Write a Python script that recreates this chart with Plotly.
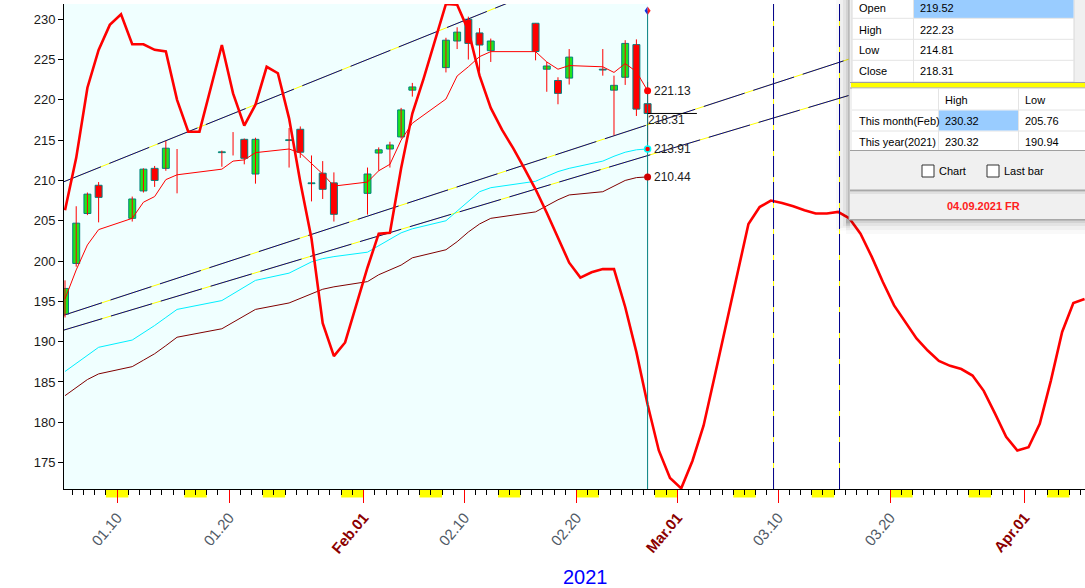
import plotly.graph_objects as go

# ---------------- data ----------------
# day index: 0 = start of 2021-01-01; bars sit 0.35 day into their calendar day
candle_day = [4, 5, 6, 7, 10, 11, 12, 13, 14, 18, 19, 20, 21, 24, 25, 26, 27, 28,
              31, 32, 33, 34, 35, 38, 39, 40, 41, 42, 46, 47, 48, 49, 52, 53, 54, 55, 56]
open_ = [193.4, 199.7, 205.9, 209.4, 205.3, 208.7, 211.5, 211.5, 211.0, 213.45, 214.0, 215.1, 210.8,
         214.95, 216.35, 209.6, 210.9, 209.7, 208.4, 213.4, 213.9, 215.4, 221.2, 224.0, 227.3, 230.0,
         228.3, 226.1, 229.5, 223.8, 222.4, 222.7, 223.8, 221.2, 222.8, 226.85, 219.52]
high = [197.6, 206.8, 208.5, 209.8, 208.0, 211.5, 211.8, 214.9, 213.9, 213.7, 216.0, 215.2, 215.3,
        216.5, 216.7, 213.1, 212.4, 211.0, 211.6, 214.1, 214.8, 219.0, 222.1, 227.7, 229.0, 230.32,
        228.9, 227.6, 229.5, 224.7, 222.8, 226.3, 226.3, 223.0, 227.4, 227.5, 222.23]
low = [193.0, 199.3, 205.7, 204.8, 204.9, 208.5, 209.2, 211.2, 208.4, 211.7, 213.1, 212.0, 209.6,
       211.6, 212.8, 207.4, 207.7, 204.9, 205.76, 211.2, 211.6, 215.2, 220.4, 223.4, 226.3, 225.0,
       223.5, 224.7, 224.9, 221.0, 219.45, 221.9, 223.0, 215.6, 221.85, 218.0, 214.81]
close = [196.6, 204.7, 208.3, 207.9, 207.7, 211.4, 210.0, 214.0, 211.0, 213.55, 214.0, 212.75, 215.1,
         215.05, 213.5, 209.7, 208.9, 205.8, 210.8, 213.8, 214.4, 218.75, 221.6, 227.4, 228.4, 227.0,
         226.8, 227.3, 226.0, 224.2, 220.8, 225.3, 223.7, 221.8, 227.0, 218.85, 218.31]

ma_fast = [195.3, 198.9, 202.0, 203.9, 205.3, 207.3, 208.0, 210.1, 210.7, 211.4, 212.4, 212.55, 213.45,
           213.9, 213.4, 212.1, 210.8, 209.3, 209.8, 211.2, 212.0, 215.0, 217.1, 220.1, 222.96, 224.1,
           225.36, 225.98, 225.98, 224.7, 223.8, 224.25, 224.1, 223.4, 224.5, 223.5, 221.13]
ma_mid = [186.3, 187.3, 188.4, 189.3, 190.2, 191.05, 192.0, 193.0, 194.0, 195.1, 195.9, 196.7, 197.6,
          198.5, 199.2, 199.9, 200.3, 200.55, 201.1, 201.9, 202.7, 203.5, 204.0, 205.0, 206.2, 207.4,
          208.6, 209.1, 209.9, 210.5, 211.1, 211.5, 212.4, 213.0, 213.5, 213.8, 213.91]
ma_slow = [183.3, 184.3, 185.3, 186.0, 186.9, 187.7, 188.5, 189.5, 190.55, 191.6, 192.4, 193.2, 194.0,
           194.8, 195.4, 195.95, 196.5, 196.8, 197.45, 198.3, 198.9, 199.5, 200.4, 201.4, 202.4, 203.6,
           204.6, 205.3, 206.1, 206.9, 207.6, 208.2, 208.6, 209.3, 210.0, 210.35, 210.44]

cycle_day = list(range(4, 96))
cycle_val = [206.3, 212.8, 221.5, 226.2, 229.3, 230.6, 226.9, 226.9, 226.2, 226.0, 220.0, 216.05, 216.05,
             221.6, 226.8, 220.8, 216.8, 219.4, 224.1, 223.3, 217.7, 209.8, 202.8, 192.3, 188.2, 189.9,
             194.6, 199.2, 203.4, 203.5, 211.5, 218.3, 222.6, 227.3, 231.9, 231.8, 228.6, 223.0, 219.0,
             216.3, 214.0, 211.5, 208.9, 206.0, 202.8, 199.8, 197.95, 198.6, 199.0, 199.0, 194.3, 188.7,
             182.2, 176.5, 173.1, 171.8, 175.2, 179.6, 185.8, 192.0, 198.5, 204.6, 206.7, 207.5, 207.2,
             206.8, 206.3, 205.9, 205.9, 206.1, 205.3, 203.4, 200.55, 197.4, 194.5, 192.4, 190.4, 188.9,
             187.6, 187.0, 186.6, 185.8, 183.9, 181.1, 178.2, 176.5, 176.9, 179.8, 185.2, 191.2, 194.8,
             195.3]

# trend channels: (start day, start value, end day, end value)
trend_lines = [
    (4.0, 209.7, 95.5, 260.9),
    (4.0, 193.17, 95.5, 234.65),
    (4.0, 191.33, 95.5, 229.35),
]
cycle_marks = [67.59, 73.48]          # dashed vertical markers
weekend_start = [8, 15, 22, 29, 36, 43, 50, 57, 64, 71, 78, 85, 92]
label_day = [9, 19, 31, 40, 50, 59, 68, 78, 90]
label_text = ["01.10", "01.20", "Feb.01", "02.10", "02.20", "Mar.01", "03.10", "03.20", "Apr.01"]
month_labels = {"Feb.01", "Mar.01", "Apr.01"}

info_ohlc = [("Open", "219.52"), ("High", "222.23"), ("Low", "214.81"), ("Close", "218.31")]
info_range = [("This month(Feb)", "230.32", "205.76"), ("This year(2021)", "230.32", "190.94")]
status_text = "04.09.2021 FR"

# ---------------- layout constants ----------------
FONT = "Liberation Sans, Arial, sans-serif"
OFF = 0.35
Y0, Y1 = 171.72, 231.89
X0, X1 = 4.26, 95.39
ML, MR, MT, MB = 64, 0, 4, 99
W, H = 1085, 588


def PX(x):
    return (x - ML) / (W - ML - MR)


def PY(y):
    return (H - MB - y) / (H - MT - MB)


cx = [d + OFF for d in candle_day]
last_x = cx[-1]

fig = go.Figure()

# trend lines: yellow base + navy dashes
for (xa, ya, xb, yb) in trend_lines:
    fig.add_trace(go.Scatter(x=[xa, xb], y=[ya, yb], mode="lines",
                             line=dict(color="#FFFF00", width=1), hoverinfo="skip"))
    fig.add_trace(go.Scatter(x=[xa, xb], y=[ya, yb], mode="lines",
                             line=dict(color="#000090", width=1, dash="43px,9px"), hoverinfo="skip"))

# averages
fig.add_trace(go.Scatter(x=cx, y=ma_slow, mode="lines", line=dict(color="#800000", width=1), hoverinfo="skip"))
fig.add_trace(go.Scatter(x=cx, y=ma_mid, mode="lines", line=dict(color="#00F0FF", width=1), hoverinfo="skip"))
fig.add_trace(go.Scatter(x=cx, y=ma_fast, mode="lines", line=dict(color="#FF0000", width=1), hoverinfo="skip"))

# wicks
wx, wy = [], []
for x, h, l in zip(cx, high, low):
    wx += [x, x, None]
    wy += [l, h, None]
fig.add_trace(go.Scatter(x=wx, y=wy, mode="lines", line=dict(color="#FF0000", width=1), hoverinfo="skip"))

# bodies
bx, bb, bh, bc = [], [], [], []
for x, o, c in zip(cx, open_, close):
    if abs(c - o) < 1e-9:
        continue
    bx.append(x)
    bb.append(min(o, c))
    bh.append(abs(c - o))
    bc.append("#1EE61E" if c > o else "#FF0000")
fig.add_trace(go.Bar(x=bx, base=bb, y=bh, width=0.62,
                     marker=dict(color=bc, line=dict(color="#008080", width=1)), hoverinfo="skip"))

# cycle curve
fig.add_trace(go.Scatter(x=[d + OFF for d in cycle_day], y=cycle_val, mode="lines",
                         line=dict(color="#FF0000", width=2.6), hoverinfo="skip"))

# dashed vertical markers
for xm in cycle_marks:
    fig.add_trace(go.Scatter(x=[xm, xm], y=[Y0, Y1], mode="lines",
                             line=dict(color="#FFFF00", width=1), hoverinfo="skip"))
    fig.add_trace(go.Scatter(x=[xm, xm], y=[Y0, Y1], mode="lines",
                             line=dict(color="#000090", width=1, dash="21px,5px"), hoverinfo="skip"))

# current bar vertical line
fig.add_trace(go.Scatter(x=[last_x, last_x], y=[Y0, 231.05], mode="lines",
                         line=dict(color="#008080", width=1), hoverinfo="skip"))
# close level line
fig.add_trace(go.Scatter(x=[last_x, last_x + 4.4], y=[close[-1], close[-1]], mode="lines",
                         line=dict(color="#000000", width=1), hoverinfo="skip"))

# end markers
fig.add_trace(go.Scatter(x=[last_x], y=[ma_fast[-1]], mode="markers",
                         marker=dict(color="#FF0000", size=7), hoverinfo="skip"))
fig.add_trace(go.Scatter(x=[last_x], y=[ma_mid[-1]], mode="markers",
                         marker=dict(color="#FF0000", size=6, line=dict(color="#00FFFF", width=1.5)),
                         hoverinfo="skip"))
fig.add_trace(go.Scatter(x=[last_x], y=[ma_slow[-1]], mode="markers",
                         marker=dict(color="#D00000", size=7), hoverinfo="skip"))

shapes = []
# data-area background
shapes.append(dict(type="rect", xref="x", yref="paper", x0=X0 - 1, x1=last_x, y0=0, y1=1,
                   fillcolor="#F0FFFF", line=dict(width=0), layer="below"))
# weekend blocks under the axis
for s in weekend_start:
    shapes.append(dict(type="rect", xref="x", yref="paper", x0=s, x1=s + 2, y0=-0.0175, y1=0,
                       fillcolor="#FFFF00", line=dict(width=0), layer="below"))
# diamond marker at top of current-bar line
dw, dh, dy = 0.27, 0.52, 231.05
shapes.append(dict(type="path", xref="x", yref="y",
                   path=f"M {last_x},{dy + dh} L {last_x - dw},{dy} L {last_x},{dy - dh} Z",
                   fillcolor="#1030E0", line=dict(width=0), layer="above"))
shapes.append(dict(type="path", xref="x", yref="y",
                   path=f"M {last_x},{dy + dh} L {last_x + dw},{dy} L {last_x},{dy - dh} Z",
                   fillcolor="#FF2020", line=dict(width=0), layer="above"))


def rect(x0, y0, x1, y1, fill, line=None, lw=0):
    shapes.append(dict(type="rect", xref="paper", yref="paper", x0=PX(x0), x1=PX(x1),
                       y0=PY(y1), y1=PY(y0), fillcolor=fill,
                       line=dict(width=lw, color=line or fill), layer="above"))


def hline(x0, x1, y, color, lw=1):
    shapes.append(dict(type="line", xref="paper", yref="paper", x0=PX(x0), x1=PX(x1),
                       y0=PY(y), y1=PY(y), line=dict(color=color, width=lw), layer="above"))


def vline(x, y0, y1, color, lw=1):
    shapes.append(dict(type="line", xref="paper", yref="paper", x0=PX(x), x1=PX(x),
                       y0=PY(y0), y1=PY(y1), line=dict(color=color, width=lw), layer="above"))


# panel shadow
for x0, a in [(836, 0.025), (840, 0.035), (843, 0.05), (846, 0.07)]:
    rect(x0, -2, 850, 222 + (850 - x0) * 0.6, f"rgba(0,0,0,{a})")
for y1, a in [(234, 0.025), (230, 0.035), (226, 0.05), (223, 0.07)]:
    rect(846, 219, 1086, y1, f"rgba(0,0,0,{a})")
# panel body
rect(849, -2, 1086, 220, "#F0F0F0", "#A0A0A0", 1)
# table 1
rect(852, -2, 1074, 82, "#FFFFFF", "#D8D8D8", 1)
rect(914, -2, 1073.5, 18, "#99CCFF")
for yy in [18.3, 39.3, 60.3]:
    hline(852, 1074, yy, "#E4E4E4")
vline(913.5, -2, 82, "#E4E4E4")
# yellow separator
hline(850, 1086, 82.5, "#A0A0A0")
rect(851, 83, 1086, 87.5, "#FFFF00")
hline(850, 1086, 88, "#A0A0A0")
# table 2
rect(852, 88.5, 1086, 150, "#FFFFFF")
for yy in [110, 131]:
    hline(852, 1086, yy, "#E4E4E4")
vline(938.5, 88.5, 150, "#E4E4E4")
vline(1018.5, 88.5, 150, "#E4E4E4")
rect(939, 110.5, 1018, 130.5, "#99CCFF")
hline(850, 1086, 150.5, "#A0A0A0")
# checkboxes
rect(922, 165, 934, 177, "#FFFFFF", "#333333", 1)
rect(987, 165, 999, 177, "#FFFFFF", "#333333", 1)
# status bar separator
hline(850, 1086, 190.5, "#A8A8A8", 2)
hline(850, 1086, 193, "#D0D0D0", 1)
hline(850, 1086, 219.5, "#A8A8A8", 1)

annotations = []


def text(x, y, s, size=11, color="#000000", anchor="left", bold=False):
    annotations.append(dict(xref="paper", yref="paper", x=PX(x), y=PY(y), text=f"<b>{s}</b>" if bold else s,
                            showarrow=False, xanchor=anchor, yanchor="middle",
                            font=dict(family=FONT, size=size, color=color)))


for i, (k, v) in enumerate(info_ohlc):
    yc = 8.5 + i * 21
    text(857, yc, k)
    text(918, yc, v)
text(943, 100, "High")
text(1023, 100, "Low")
for i, (k, hi, lo) in enumerate(info_range):
    yc = 120.7 + i * 21
    text(857, yc, k)
    text(943, yc, hi)
    text(1023, yc, lo)
text(937, 171, "Chart")
text(1002, 171, "Last bar")
text(983, 206, status_text, color="#FF2020", anchor="center", bold=True)

# year label
annotations.append(dict(xref="paper", yref="paper", x=PX(585), y=PY(577), text="2021", showarrow=False,
                        xanchor="center", yanchor="middle", font=dict(family=FONT, size=20, color="#0000FF")))

# value labels at the current bar
for val in [ma_fast[-1], ma_mid[-1], ma_slow[-1]]:
    annotations.append(dict(x=last_x, y=val, xref="x", yref="y", text=f"{val:.2f}", showarrow=False,
                            xanchor="left", yanchor="middle", xshift=4,
                            font=dict(family=FONT, size=12, color="#202020")))
annotations.append(dict(x=last_x, y=close[-1], xref="x", yref="y", text=f"{close[-1]:.2f}", showarrow=False,
                        xanchor="left", yanchor="middle", xshift=-2, yshift=-7,
                        font=dict(family=FONT, size=12, color="#202020")))

ticktext = []
for t in label_text:
    if t in month_labels:
        ticktext.append(f"<span style='color:#8B0000'><b>{t}</b></span>")
    else:
        ticktext.append(t)

fig.update_layout(
    width=W, height=H,
    margin=dict(l=ML, r=MR, t=MT, b=MB),
    paper_bgcolor="#FFFFFF", plot_bgcolor="#FFFFFF",
    showlegend=False,
    shapes=shapes, annotations=annotations,
    font=dict(family=FONT),
    xaxis=dict(range=[X0, X1], showgrid=False, zeroline=False, showline=True, linecolor="#000000",
               linewidth=1, ticks="outside", ticklen=13, tickcolor="#FF0000", tickwidth=1,
               tickmode="array", tickvals=label_day, ticktext=ticktext, tickangle=-50,
               tickfont=dict(family=FONT, size=15, color="#505A66"),
               minor=dict(ticks="outside", ticklen=5, tickcolor="#000000", tickwidth=1,
                          tickmode="linear", tick0=0, dtick=1, showgrid=False)),
    yaxis=dict(range=[Y0, Y1], showgrid=False, zeroline=False, showline=True, linecolor="#000000",
               linewidth=1, ticks="outside", ticklen=5, tickcolor="#000000",
               tickmode="array", tickvals=list(range(175, 231, 5)),
               tickfont=dict(family=FONT, size=13, color="#1A1A1A")),
)

fig.write_html(
    "out.html",
    config={"displayModeBar": False},
    post_script="document.body.style.margin='0px';document.body.style.padding='0px';"
                "document.documentElement.style.overflow='hidden';",
)
